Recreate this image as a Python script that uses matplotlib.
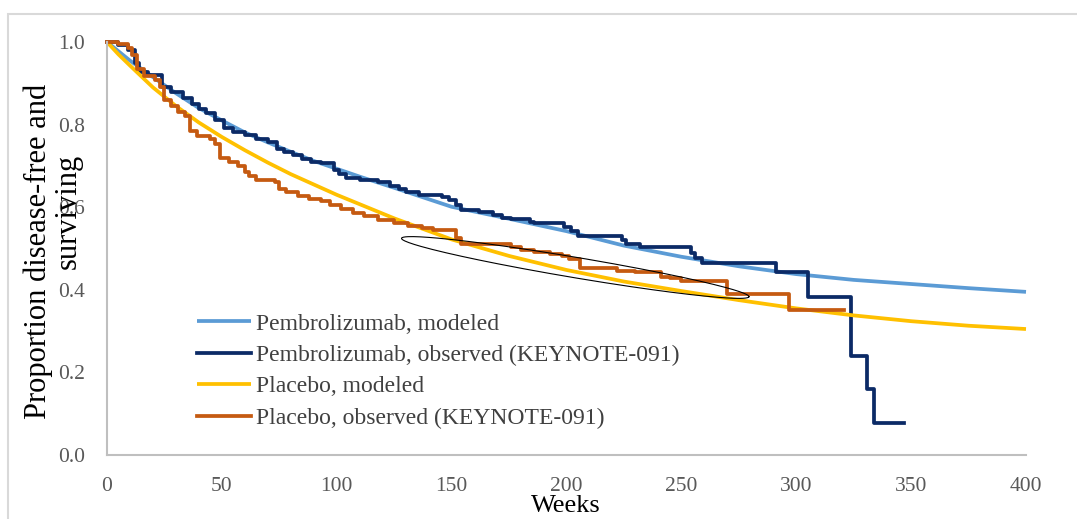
import numpy as np
import matplotlib
matplotlib.use("Agg")
import matplotlib.pyplot as plt
from matplotlib.patches import Rectangle

plt.rcParams['font.family'] = ['Liberation Serif', 'DejaVu Serif']

# Modeled survival curves (weeks, proportion disease-free and surviving)
pembro_model_weeks = [0, 10, 20, 30, 40, 50, 60, 70, 80, 90, 100, 110, 125, 150,
                      175, 200, 225, 250, 275, 300, 325, 350, 375, 400]
pembro_model_surv = [1.0, 0.955, 0.915, 0.876, 0.84, 0.81, 0.781, 0.757, 0.734, 0.712,
                     0.693, 0.674, 0.647, 0.601, 0.572, 0.542, 0.507, 0.48, 0.457,
                     0.438, 0.424, 0.414, 0.404, 0.395]

placebo_model_weeks = [0, 5, 10, 20, 30, 40, 50, 60, 70, 80, 90, 100, 125, 150,
                       175, 200, 225, 250, 275, 300, 325, 350, 375, 400]
placebo_model_surv = [1.0, 0.97, 0.943, 0.89, 0.845, 0.805, 0.77, 0.738, 0.708, 0.68,
                      0.655, 0.63, 0.573, 0.522, 0.482, 0.448, 0.42, 0.397, 0.375,
                      0.355, 0.338, 0.324, 0.313, 0.305]

# Observed Kaplan-Meier steps (KEYNOTE-091)
pembro_obs_weeks = [0, 5, 9, 12, 14, 18, 24, 28, 33, 37, 40, 43, 47, 51, 55, 60, 65,
                    70, 74, 77, 81, 85, 89, 93, 99, 101, 104, 110, 118, 123, 127,
                    130, 136, 146, 149, 152, 154, 162, 168, 172, 176, 184, 186, 199,
                    202, 205, 224, 226, 232, 254, 256, 259, 291, 305, 324, 331, 334,
                    347]
pembro_obs_surv = [1.0, 0.993, 0.98, 0.95, 0.928, 0.92, 0.89, 0.88, 0.865, 0.85,
                   0.838, 0.827, 0.812, 0.792, 0.783, 0.775, 0.765, 0.757, 0.742,
                   0.733, 0.726, 0.716, 0.71, 0.706, 0.69, 0.68, 0.67, 0.666, 0.662,
                   0.652, 0.643, 0.636, 0.63, 0.625, 0.617, 0.605, 0.593, 0.589,
                   0.58, 0.575, 0.571, 0.565, 0.562, 0.553, 0.542, 0.53, 0.52,
                   0.512, 0.504, 0.49, 0.478, 0.464, 0.442, 0.383, 0.24, 0.16,
                   0.078, 0.078]

placebo_obs_weeks = [0, 5, 9, 11, 13, 16, 21, 23, 25, 28, 31, 34, 36, 39, 45, 47, 49,
                     53, 57, 60, 62, 65, 73, 75, 78, 83, 88, 93, 97, 102, 107, 112,
                     118, 125, 131, 137, 142, 152, 154, 176, 180, 186, 193, 198, 201,
                     206, 222, 230, 241, 245, 250, 270, 297, 321]
placebo_obs_surv = [1.0, 0.995, 0.985, 0.968, 0.935, 0.918, 0.908, 0.89, 0.86, 0.845,
                    0.83, 0.82, 0.785, 0.772, 0.765, 0.752, 0.72, 0.71, 0.70, 0.685,
                    0.675, 0.665, 0.66, 0.645, 0.637, 0.628, 0.62, 0.614, 0.605,
                    0.595, 0.587, 0.578, 0.57, 0.562, 0.555, 0.55, 0.545, 0.525,
                    0.51, 0.503, 0.497, 0.492, 0.486, 0.481, 0.475, 0.452, 0.446,
                    0.444, 0.432, 0.428, 0.421, 0.391, 0.35, 0.35]

x_ticks = [0, 50, 100, 150, 200, 250, 300, 350, 400]
y_ticks = [0.0, 0.2, 0.4, 0.6, 0.8, 1.0]

W, H = 1077, 519
fig = plt.figure(figsize=(W / 100, H / 100), dpi=100)
ax = fig.add_axes([107 / W, 1 - 455 / H, (1026 - 107) / W, (455 - 42) / H])

# Outer chart-area frame
fig.patches.append(Rectangle((8 / W, -0.2), 1.2, 1 - 14 / H + 0.2,
                             transform=fig.transFigure, fill=False,
                             edgecolor='#D9D9D9', lw=1.5, zorder=0))

lw = 2.7
ax.plot(pembro_model_weeks, pembro_model_surv, color='#5B9BD5', lw=lw,
        label='Pembrolizumab, modeled', clip_on=False, solid_capstyle='butt')
ax.step(pembro_obs_weeks, pembro_obs_surv, where='post', color='#0B2A66', lw=lw,
        label='Pembrolizumab, observed (KEYNOTE-091)', clip_on=False)
ax.plot(placebo_model_weeks, placebo_model_surv, color='#FFC000', lw=lw,
        label='Placebo, modeled', clip_on=False, solid_capstyle='butt')
ax.step(placebo_obs_weeks, placebo_obs_surv, where='post', color='#C55A11', lw=lw,
        label='Placebo, observed (KEYNOTE-091)', clip_on=False)

# Highlight ellipse around the period where observed placebo sits above the model
ell_center = (203.8, 0.454)
ell_major = (75.6, -0.0707)
ell_minor = (-0.74, -0.0244)
th = np.linspace(0, 2 * np.pi, 200)
ex = ell_center[0] + ell_major[0] * np.cos(th) + ell_minor[0] * np.sin(th)
ey = ell_center[1] + ell_major[1] * np.cos(th) + ell_minor[1] * np.sin(th)
ax.plot(ex, ey, color='black', lw=0.8, zorder=5)

ax.set_xlim(0, 400)
ax.set_ylim(0, 1.0)
ax.set_xticks(x_ticks)
ax.set_yticks(y_ticks)
ax.set_yticklabels([f'{v:.1f}' for v in y_ticks])
ax.tick_params(length=0, labelsize=15.5, colors='#595959', pad=16)
for s in ('top', 'right'):
    ax.spines[s].set_visible(False)
for s in ('left', 'bottom'):
    ax.spines[s].set_color('#BFBFBF')
    ax.spines[s].set_linewidth(1.5)

fig.text(566 / W, 1 - 506 / H, 'Weeks', ha='center', va='center', fontsize=19,
         color='black')
# Axis title wrapped over two lines
fig.text(38 / W, 1 - 251 / H, 'Proportion disease-free and', rotation=90,
         ha='center', va='center', fontsize=22, color='black')
fig.text(68 / W, 1 - 211 / H, 'surviving', rotation=90,
         ha='center', va='center', fontsize=22, color='black')

leg = ax.legend(loc='upper left', bbox_to_anchor=(197 / W, 1 - 313 / H),
                bbox_transform=fig.transFigure, frameon=False, fontsize=17,
                handlelength=2.3, handletextpad=0.2, labelspacing=0.42,
                borderpad=0, borderaxespad=0)
for t in leg.get_texts():
    t.set_color('#404040')

fig.savefig('out.png', dpi=100)
